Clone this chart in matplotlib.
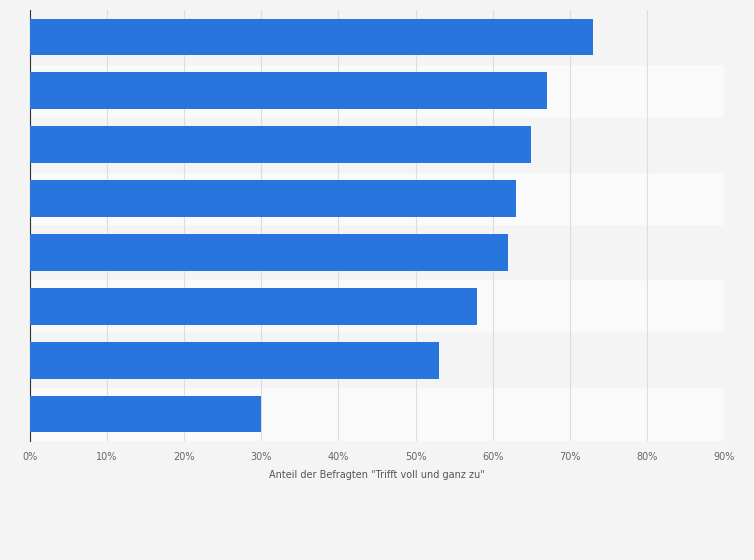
import matplotlib
matplotlib.use("Agg")
import matplotlib.pyplot as plt

values = [73, 67, 65, 63, 62, 58, 53, 30]
ticks = [0, 10, 20, 30, 40, 50, 60, 70, 80, 90]
tick_labels = [f"{t}%" for t in ticks]
xlabel = 'Anteil der Befragten "Trifft voll und ganz zu"'

fig = plt.figure(figsize=(7.54, 5.6), dpi=100, facecolor="#f4f4f4")
ax = fig.add_axes([30/754, 119/560, 694/754, 431/560])
ax.set_facecolor("#fafafa")
n = len(values)
for i in range(n):
    if i % 2 == 0:
        ax.axhspan(i - 0.5, i + 0.5, color="#f4f4f4", zorder=0)
ax.barh(range(n), values, height=0.68, color="#2775dd", zorder=3)
ax.set_ylim(n - 0.5, -0.5)
ax.set_xlim(0, 90)
ax.set_xticks(ticks)
ax.set_xticklabels(tick_labels, fontsize=7, color="#666666")
ax.set_yticks([])
ax.grid(axis="x", color="#dddddd", linewidth=0.8, zorder=1)
for s in ["top", "right", "bottom"]:
    ax.spines[s].set_visible(False)
ax.spines["left"].set_color("#333333")
ax.tick_params(axis="x", length=0, pad=8)
ax.set_xlabel(xlabel, fontsize=7, color="#555555", labelpad=6)
fig.savefig("out.png", dpi=100, facecolor=fig.get_facecolor())
